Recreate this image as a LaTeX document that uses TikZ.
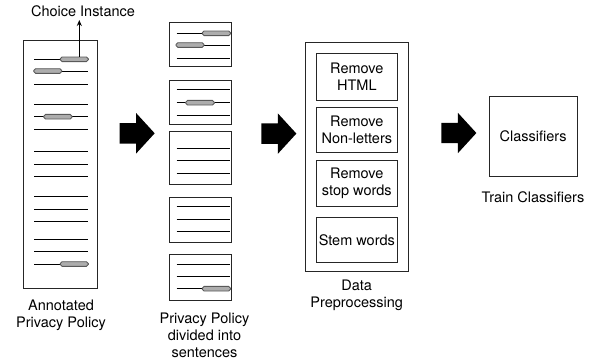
\documentclass[tikz,border=0pt]{standalone}
\usepackage{fontspec}
\setmainfont{TeX Gyre Heros}
\usetikzlibrary{shapes.arrows,arrows.meta}
\begin{document}
\begin{tikzpicture}[x=1pt,y=-1pt,
  txt/.style={font=\fontsize{14.5}{17}\selectfont, align=center, inner sep=0pt},
  box/.style={draw=black!85, line width=0.9pt},
  tline/.style={draw=black, line width=1pt},
  hl/.style={draw=black!65, fill=black!32, line width=0.9pt, rounded corners=1.8pt},
  bigarrow/.style={single arrow, fill=black, draw=none, inner sep=0pt,
    minimum height=35pt, minimum width=40pt, single arrow head extend=10pt,
    single arrow tip angle=95},
  ptr/.style={draw=black, line width=1pt, -{Stealth[length=6pt,width=5pt]}}]
\useasboundingbox (0,0) rectangle (595,364);

% ---------- Annotated privacy policy ----------
\draw[box] (23,40) rectangle (97.7,288);
\foreach \y in {59.3,71,84.3,104,116.7,129,151.7,164,176.7,196.7,209,221.3,239.3,251.7,264}
  \draw[tline] (34.3,\y) -- (88.3,\y);
\draw[hl] (60.3,57) rectangle (88.3,61.6);
\draw[hl] (33.7,68.7) rectangle (61.7,73.3);
\draw[hl] (43.7,114.4) rectangle (72,119);
\draw[hl] (60.3,261.7) rectangle (88.3,266.3);
\coordinate (ci) at (79.3,57);
\node[txt] (choice) at (83,11) {Choice Instance};
\coordinate (citip) at (79.3,20);
\draw[ptr] (ci) -- (citip);
\node[txt] (lab1) at (61,315.5) {Annotated\\Privacy Policy};

% ---------- arrows ----------
\node[bigarrow] (a1) at (132.5,133.3) {\rule{0pt}{20pt}};
\node[bigarrow] (a2) at (274.2,133.6) {\rule{0pt}{20pt}};
\node[bigarrow] (a3) at (454.2,133) {\rule{0pt}{20pt}};

% ---------- sentences ----------
\draw[box] (169,22.3) rectangle (231.3,66.7);
\draw[box] (169,80) rectangle (231.3,124);
\draw[box] (169,131) rectangle (231.3,184.3);
\draw[box] (169,197.3) rectangle (231.3,242.3);
\draw[box] (169,254.3) rectangle (231.3,300);
\foreach \y in {33.3,45,58.3,89.3,102.7,115,148.3,160,173.3,206.7,219.3,231.7,264.3,276.7,288.7}
  \draw[tline] (176.7,\y) -- (230,\y);
\draw[hl] (202.3,31) rectangle (230.5,35.6);
\draw[hl] (176,42.7) rectangle (204,47.3);
\draw[hl] (185.7,100.4) rectangle (214.3,105);
\draw[hl] (202.3,286.4) rectangle (230.5,291);
\node[txt] (lab2) at (204.5,335) {Privacy Policy\\divided into\\sentences};

% ---------- preprocessing ----------
\draw[box] (305,42.7) rectangle (408.3,271.7);
\node[box, minimum width=81.7pt, minimum height=47.4pt, inner sep=0pt] (p1) at (356.85,77) {};
\node[box, minimum width=81.7pt, minimum height=45.4pt, inner sep=0pt] (p2) at (356.85,130) {};
\node[box, minimum width=81.7pt, minimum height=45.3pt, inner sep=0pt] (p3) at (356.85,183.35) {};
\node[box, minimum width=81.7pt, minimum height=45pt, inner sep=0pt] (p4) at (356.85,240.2) {};
\node[txt] at (p1) {Remove\\HTML};
\node[txt] at (p2) {Remove\\Non-letters};
\node[txt] at (p3) {Remove\\stop words};
\node[txt] at (p4) {Stem words};
\node[txt] (lab3) at (356.7,295.5) {Data\\Preprocessing};

% ---------- classifiers ----------
\node[box, minimum width=88.3pt, minimum height=80.7pt, inner sep=0pt] (cl) at (533.15,136.35) {};
\node[txt] at (cl) {Classifiers};
\node[txt] (lab4) at (533,197.3) {Train Classifiers};
\end{tikzpicture}
\end{document}
